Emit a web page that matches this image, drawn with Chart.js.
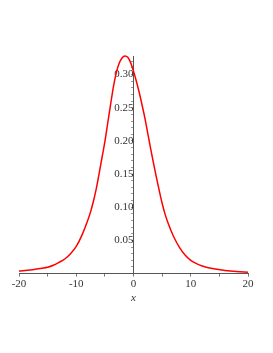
<!DOCTYPE html>
<html>
<head>
<meta charset="utf-8">
<script src="https://cdn.jsdelivr.net/npm/chart.js@4.4.1/dist/chart.umd.min.js"></script>
<style>
  html, body { margin: 0; padding: 0; background: #fff; overflow: hidden; }
</style>
</head>
<body>
<canvas id="curveChart" width="273" height="353"></canvas>
<script>
// x positions and curve heights
const xs = [-20, -18, -16, -15, -14, -13, -12, -11, -10, -9, -8, -7.5, -7, -6.5, -6, -5.5, -5, -4.5, -4, -3.5, -3, -2.5, -2, -1.5, -1, -0.5, 0, 0.5, 1, 1.5, 2, 2.5, 3, 3.5, 4, 4.5, 5, 5.5, 6, 7, 8, 9, 10, 11, 12, 14, 16, 18, 20];
const ys = [0.004, 0.0055, 0.008, 0.0095, 0.0125, 0.017, 0.022, 0.030, 0.041, 0.058, 0.080, 0.093, 0.109, 0.128, 0.151, 0.175, 0.199, 0.227, 0.255, 0.282, 0.303, 0.317, 0.325, 0.328, 0.326, 0.318, 0.305, 0.290, 0.273, 0.254, 0.234, 0.211, 0.188, 0.166, 0.145, 0.125, 0.106, 0.090, 0.077, 0.056, 0.040, 0.028, 0.020, 0.015, 0.0115, 0.0072, 0.0046, 0.003, 0.002];
const xTicks = [-20, -10, 0, 10, 20];
const yTicks = [0.05, 0.10, 0.15, 0.20, 0.25, 0.30];

const points = xs.map((x, i) => ({ x: x, y: ys[i] }));
const serif = 'Liberation Serif';

new Chart(document.getElementById('curveChart'), {
    type: 'line',
    data: {
        datasets: [{
            data: points,
            borderColor: '#ff0000',
            borderWidth: 1.5,
            pointRadius: 0,
            cubicInterpolationMode: 'monotone',
            fill: false,
            clip: 4
        }]
    },
    options: {
        responsive: false,
        animation: false,
        layout: { padding: { left: 19, right: 25, top: 56, bottom: 48 } },
        plugins: { legend: { display: false }, tooltip: { enabled: false } },
        scales: {
            x: {
                type: 'linear',
                min: -20,
                max: 20,
                afterBuildTicks: (axis) => {
                    axis.ticks = [];
                    for (let v = -20; v <= 20; v += 5) axis.ticks.push({ value: v });
                },
                ticks: {
                    autoSkip: false,
                    maxRotation: 0,
                    color: '#333',
                    font: { family: serif, size: 11 },
                    padding: 1,
                    callback: (v) => xTicks.includes(v) ? String(v) : ''
                },
                grid: { drawOnChartArea: false, tickLength: 3, color: '#777' },
                border: { color: '#555', width: 1 },
                title: {
                    display: true,
                    text: 'x',
                    color: '#333',
                    padding: 0,
                    font: { family: serif, size: 11, style: 'italic' }
                }
            },
            y: {
                type: 'linear',
                position: { x: 0 },
                min: 0,
                max: 0.328,
                afterBuildTicks: (axis) => {
                    axis.ticks = [];
                    for (let i = 1; i <= 32; i++) axis.ticks.push({ value: i / 100 });
                },
                ticks: {
                    autoSkip: false,
                    color: '#333',
                    font: { family: serif, size: 11 },
                    padding: 2,
                    callback: (v) => {
                        const hit = yTicks.find(t => Math.abs(t - v) < 1e-6);
                        return hit !== undefined ? hit.toFixed(2) : '';
                    }
                },
                grid: { drawOnChartArea: false, tickLength: 2, color: '#999' },
                border: { color: '#555', width: 1 }
            }
        }
    }
});
</script>
</body>
</html>
